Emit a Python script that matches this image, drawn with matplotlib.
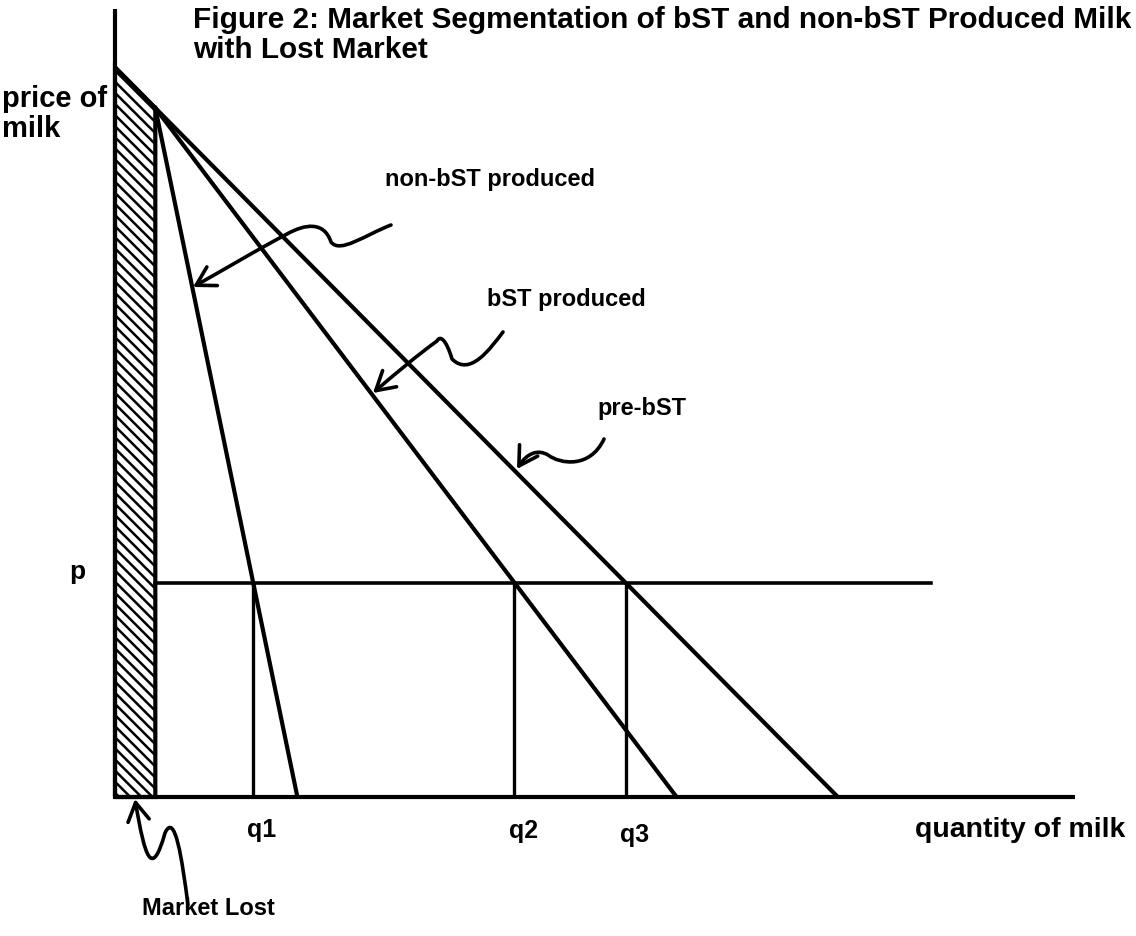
import numpy as np
import matplotlib
matplotlib.use("Agg")
import matplotlib.pyplot as plt
from matplotlib.path import Path
from matplotlib.patches import Polygon, FancyArrowPatch

plt.rcParams['font.family'] = ['Liberation Sans', 'DejaVu Sans']
plt.rcParams['hatch.linewidth'] = 1.8

# diagram values (arbitrary units, quantity 0-100, price 0-100)
pre_top = 92.6          # price intercept of pre-bST demand
pre_end = 75.3          # quantity intercept of pre-bST demand
lost_q = 4.2            # width of the lost market
bst_end = 58.5          # quantity intercept of bST produced demand
nonbst_end = 19.0       # quantity intercept of non-bST produced demand
price_p = 27.2          # market price p
p_line_end = 85.0

title = "Figure 2: Market Segmentation of bST and non-bST Produced Milk\nwith Lost Market"
curve_labels = ["non-bST produced", "bST produced", "pre-bST"]
q_labels = ["q1", "q2", "q3"]


def pre_price(q):
    return pre_top * (1 - q / pre_end)


kink_p = pre_price(lost_q)


def q_at(price, end):
    # quantity on a line from the kink to (end, 0)
    return lost_q + (1 - price / kink_p) * (end - lost_q)


q1 = q_at(price_p, nonbst_end)
q2 = q_at(price_p, bst_end)
q3 = pre_end * (1 - price_p / pre_top)

fig = plt.figure(figsize=(11.36, 9.37), dpi=100)
ax = fig.add_axes([115 / 1136, 139 / 937, 960 / 1136, 788 / 937])
ax.set_xlim(0, 100)
ax.set_ylim(0, 100)
ax.axis('off')

lw = 3.0
# axes
ax.plot([0, 0], [0, 100], color='black', lw=lw, solid_capstyle='butt', clip_on=False)
ax.plot([0, 100], [0, 0], color='black', lw=lw, solid_capstyle='butt', clip_on=False)

# lost market (hatched)
ax.add_patch(Polygon([(0, 0), (0, pre_top), (lost_q, kink_p), (lost_q, 0)],
                     closed=True, facecolor='white', edgecolor='black',
                     hatch='\\' * 3, lw=lw, joinstyle='miter', clip_on=False))

# demand curves
ax.plot([0, pre_end], [pre_top, 0], color='black', lw=lw)
ax.plot([lost_q, bst_end], [kink_p, 0], color='black', lw=lw)
ax.plot([lost_q, nonbst_end], [kink_p, 0], color='black', lw=lw)

# price line and quantities
ax.plot([lost_q, p_line_end], [price_p, price_p], color='black', lw=2.6)
for q in [q1, q2, q3]:
    ax.plot([q, q], [0, price_p], color='black', lw=2.4)

# text
fig.text(193 / 1136, 1 - 6 / 937, title, fontsize=21.4, weight='bold',
         ha='left', va='top', linespacing=1.08)
ax.text(-11.8, 90.5, "price of\nmilk", fontsize=21, weight='bold', ha='left', va='top',
        linespacing=1.1, clip_on=False)
ax.text(-3.9, price_p + 1.5, "p", fontsize=19, weight='bold', ha='center', va='center')
for q, lab, dy in zip([q1, q2, q3], q_labels, [-4.0, -4.2, -4.7]):
    ax.text(q + 0.9, dy, lab, fontsize=18, weight='bold', ha='center', va='center',
            clip_on=False)
ax.text(83.3, -4.0, "quantity of milk", fontsize=20.5, weight='bold', ha='left',
        va='center', clip_on=False)
ax.text(2.8, -14.0, "Market Lost", fontsize=17, weight='bold', ha='left', va='center',
        clip_on=False)

ax.text(28.1, 78.5, curve_labels[0], fontsize=17, weight='bold', ha='left', va='center')
ax.text(38.8, 63.2, curve_labels[1], fontsize=17, weight='bold', ha='left', va='center')
ax.text(50.3, 49.4, curve_labels[2], fontsize=17, weight='bold', ha='left', va='center')


def px(x, y):
    # figure pixel position -> data units
    return ((x - 115) / 9.6, (798 - y) / 7.88)


def squiggle(points):
    verts = [px(*p) for p in points]
    codes = [Path.MOVETO] + [Path.CURVE4] * (len(verts) - 1)
    arr = FancyArrowPatch(path=Path(verts, codes),
                          arrowstyle='->,head_length=0.6,head_width=0.35',
                          mutation_scale=22, color='black', lw=2.6,
                          shrinkA=0, shrinkB=0, clip_on=False)
    ax.add_patch(arr)


# squiggly pointers
squiggle([(391, 226), (365, 236), (340, 255), (331, 243),
          (324, 222), (305, 225), (287, 235),
          (255, 252), (225, 270), (193, 288)])
squiggle([(503, 333), (490, 350), (470, 378), (452, 360),
          (446, 340), (440, 336), (437, 342),
          (415, 358), (395, 375), (373, 394)])
squiggle([(604, 440), (590, 470), (560, 465), (548, 456),
          (538, 450), (527, 454), (517, 470)])
squiggle([(188, 906), (182, 860), (175, 812), (165, 834),
          (152, 880), (145, 860), (135, 800)])

fig.savefig("out.png", dpi=100, facecolor='white')
